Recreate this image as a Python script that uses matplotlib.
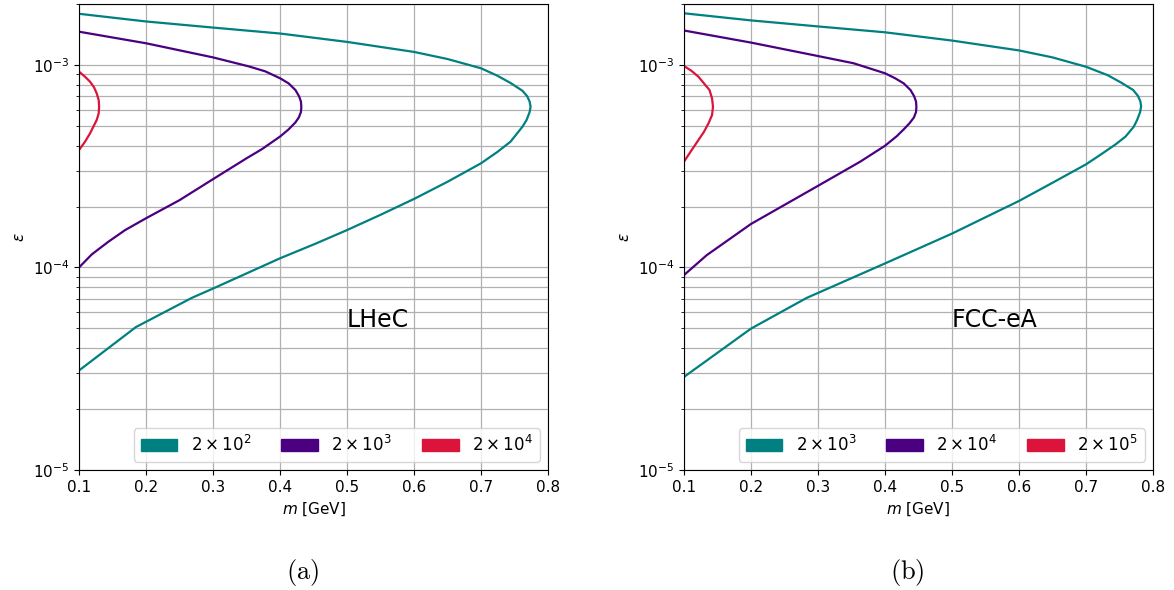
import matplotlib
matplotlib.use("Agg")
import matplotlib.pyplot as plt
import matplotlib.patches as mpatches

plt.rcParams['mathtext.fontset'] = 'dejavusans'

# contour levels (number of events), LHeC
lhec_labels = [r'$2 \times 10^{2}$', r'$2 \times 10^{3}$', r'$2 \times 10^{4}$']
lhec_m_1 = [0.1, 0.185, 0.2684, 0.3, 0.4, 0.4528, 0.5, 0.55, 0.6, 0.65, 0.7, 0.7244,
            0.744, 0.7617, 0.768, 0.7725, 0.774, 0.7725, 0.769, 0.762, 0.744, 0.7244, 0.7,
            0.65, 0.6, 0.5, 0.4528, 0.4, 0.3, 0.2, 0.1]
lhec_eps_1 = [3.10e-5, 5.08e-5, 7.08e-5, 7.87e-5, 1.11e-4, 1.31e-4, 1.53e-4, 1.82e-4, 2.18e-4,
              2.65e-4, 3.27e-4, 3.72e-4, 4.18e-4, 4.95e-4, 5.35e-4, 5.85e-4, 6.22e-4, 6.6e-4,
              7.0e-4, 7.45e-4, 8.15e-4, 8.85e-4, 9.63e-4, 1.07e-3, 1.16e-3, 1.30e-3, 1.36e-3,
              1.43e-3, 1.53e-3, 1.64e-3, 1.79e-3]
lhec_m_2 = [0.1, 0.119, 0.1438, 0.1688, 0.2, 0.25, 0.3, 0.35, 0.373, 0.4, 0.4129, 0.4229,
            0.428, 0.4312, 0.4318, 0.4312, 0.4285, 0.423, 0.4129, 0.4, 0.378, 0.353, 0.3,
            0.2, 0.1]
lhec_eps_2 = [1.0e-4, 1.16e-4, 1.34e-4, 1.53e-4, 1.75e-4, 2.15e-4, 2.73e-4, 3.46e-4, 3.84e-4,
              4.43e-4, 4.81e-4, 5.2e-4, 5.5e-4, 5.85e-4, 6.22e-4, 6.6e-4, 7.0e-4, 7.52e-4,
              8.11e-4, 8.6e-4, 9.3e-4, 9.85e-4, 1.09e-3, 1.28e-3, 1.46e-3]
lhec_m_3 = [0.1, 0.109, 0.1164, 0.1264, 0.1294, 0.130, 0.1294, 0.1264, 0.1224, 0.1164, 0.109, 0.1]
lhec_eps_3 = [3.80e-4, 4.18e-4, 4.59e-4, 5.35e-4, 5.77e-4, 6.22e-4, 6.71e-4, 7.24e-4, 7.76e-4,
              8.27e-4, 8.75e-4, 9.27e-4]

# contour levels, FCC-eA
fcc_labels = [r'$2 \times 10^{3}$', r'$2 \times 10^{4}$', r'$2 \times 10^{5}$']
fcc_m_1 = [0.1, 0.2, 0.2833, 0.4, 0.4451, 0.5, 0.55, 0.6, 0.65, 0.7, 0.7241, 0.744, 0.759,
           0.7712, 0.7763, 0.7808, 0.7823, 0.781, 0.7775, 0.7705, 0.752, 0.7325, 0.7, 0.65,
           0.6, 0.5, 0.4, 0.3, 0.2, 0.1]
fcc_eps_1 = [2.88e-5, 4.99e-5, 7.08e-5, 1.047e-4, 1.22e-4, 1.47e-4, 1.77e-4, 2.13e-4, 2.62e-4,
             3.23e-4, 3.65e-4, 4.05e-4, 4.43e-4, 4.95e-4, 5.35e-4, 5.85e-4, 6.26e-4, 6.64e-4,
             7.04e-4, 7.52e-4, 8.2e-4, 8.9e-4, 9.8e-4, 1.09e-3, 1.18e-3, 1.32e-3, 1.45e-3,
             1.55e-3, 1.66e-3, 1.80e-3]
fcc_m_2 = [0.1, 0.1339, 0.2, 0.3, 0.363, 0.4, 0.4176, 0.428, 0.4365, 0.4431, 0.4463, 0.4469,
           0.4463, 0.4436, 0.4381, 0.428, 0.4151, 0.4, 0.353, 0.3, 0.2, 0.1]
fcc_eps_2 = [9.17e-5, 1.15e-4, 1.64e-4, 2.53e-4, 3.33e-4, 3.99e-4, 4.45e-4, 4.81e-4, 5.15e-4,
             5.5e-4, 5.85e-4, 6.22e-4, 6.6e-4, 7.0e-4, 7.52e-4, 8.11e-4, 8.6e-4, 9.1e-4,
             1.02e-3, 1.107e-3, 1.29e-3, 1.48e-3]
fcc_m_3 = [0.1, 0.1115, 0.1216, 0.1299, 0.1366, 0.1419, 0.1433, 0.1419, 0.1381, 0.1299,
           0.1216, 0.1115, 0.1]
fcc_eps_3 = [3.33e-4, 3.80e-4, 4.26e-4, 4.68e-4, 5.15e-4, 5.66e-4, 6.22e-4, 6.84e-4, 7.52e-4,
             8.11e-4, 8.75e-4, 9.34e-4, 9.89e-4]

colors = ['teal', 'indigo', 'crimson']

fig = plt.figure(figsize=(11.74, 5.90), dpi=100)
ax1 = fig.add_axes([0.0673, 0.2034, 0.3995, 0.7898])
ax2 = fig.add_axes([0.5826, 0.2034, 0.3995, 0.7898])

panels = [
    (ax1, [(lhec_m_1, lhec_eps_1), (lhec_m_2, lhec_eps_2), (lhec_m_3, lhec_eps_3)], lhec_labels, 'LHeC'),
    (ax2, [(fcc_m_1, fcc_eps_1), (fcc_m_2, fcc_eps_2), (fcc_m_3, fcc_eps_3)], fcc_labels, 'FCC-eA'),
]

for ax, curves, labels, name in panels:
    for (m, eps), c in zip(curves, colors):
        ax.plot(m, eps, color=c, lw=1.6, solid_joinstyle='round')
    ax.set_yscale('log')
    ax.set_xlim(0.1, 0.8)
    ax.set_ylim(1e-5, 2e-3)
    ax.grid(True, which='major', axis='x', color='#b0b0b0', lw=0.9)
    ax.grid(True, which='both', axis='y', color='#b0b0b0', lw=0.9)
    ax.tick_params(labelsize=11)
    ax.set_xlabel(r'$m$ [GeV]', fontsize=11)
    ax.set_ylabel(r'$\epsilon$', fontsize=11)
    ax.text(0.5, 5.5e-5, name, fontsize=17, ha='left', va='center')
    handles = [mpatches.Patch(color=c, label=l) for c, l in zip(colors, labels)]
    ax.legend(handles=handles, loc='lower right', ncol=3, fontsize=12,
              handlelength=2.2, columnspacing=1.8)

fig.text(0.258, 0.03, r'$\mathrm{(a)}$', fontsize=19, ha='center', va='center',
         math_fontfamily='cm')
fig.text(0.773, 0.03, r'$\mathrm{(b)}$', fontsize=19, ha='center', va='center',
         math_fontfamily='cm')

fig.savefig('out.png', dpi=100)
